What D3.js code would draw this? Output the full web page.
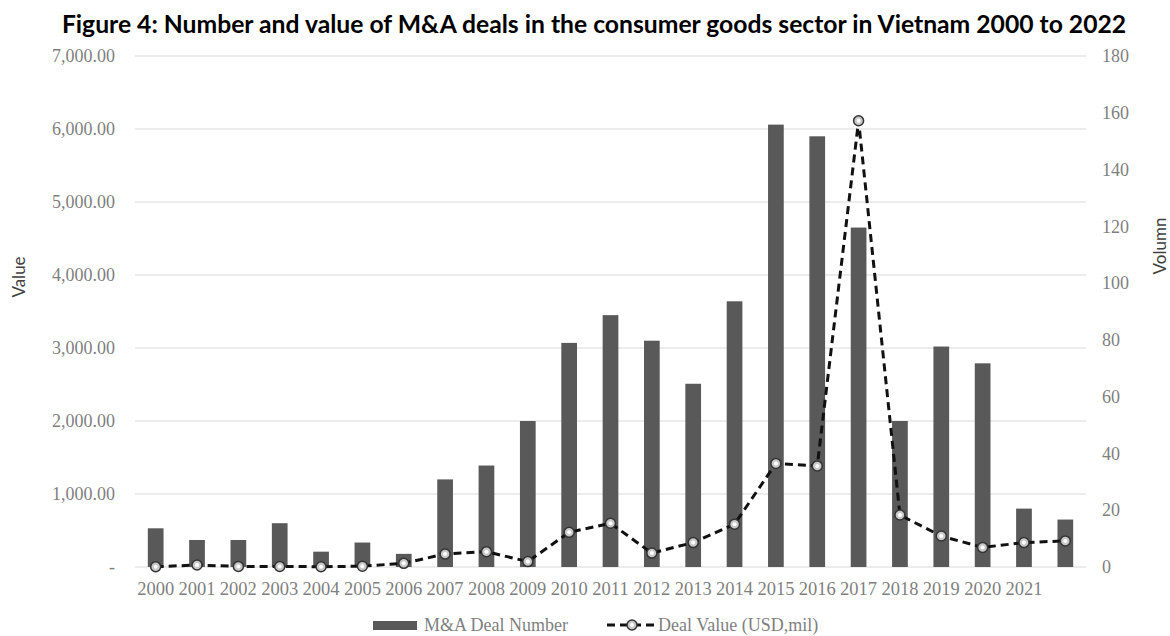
<!DOCTYPE html>
<html>
<head>
<meta charset="utf-8">
<script src="https://cdn.jsdelivr.net/npm/d3@7"></script>
<style>
  body { margin: 0; background: #fff; }
  svg { display: block; }
</style>
</head>
<body>
<svg id="chart" width="1170" height="636"></svg>
<script>
// Years covered by the bars (the last year has no tick label on the axis)
const years = ["2000","2001","2002","2003","2004","2005","2006","2007","2008","2009","2010",
               "2011","2012","2013","2014","2015","2016","2017","2018","2019","2020","2021","2022"];
// M&A deal number (left axis)
const dealNumber = [530, 370, 370, 600, 210, 335, 180, 1200, 1390, 2000, 3070,
                    3450, 3100, 2510, 3640, 6060, 5900, 4650, 2000, 3020, 2790, 800, 650];
// Deal value, USD mil (right axis)
const dealValue = [0.1, 0.7, 0.2, 0.2, 0.1, 0.3, 1.3, 4.6, 5.4, 1.9, 12.2,
                   15.4, 4.9, 8.6, 15.1, 36.5, 35.6, 157.2, 18.3, 10.9, 6.9, 8.6, 9.2];
// Labels printed under the axis
const xTickLabels = ["2000","2001","2002","2003","2004","2005","2006","2007","2008","2009","2010",
                     "2011","2012","2013","2014","2015","2016","2017","2018","2019","2020","2021"];
const leftTicks = [0, 1000, 2000, 3000, 4000, 5000, 6000, 7000];
const rightTicks = [0, 20, 40, 60, 80, 100, 120, 140, 160, 180];

const svg = d3.select("#chart");
const plot = { left: 135, right: 1086, top: 56, bottom: 567 };

const x = d3.scaleBand().domain(years).range([plot.left, plot.right]).paddingInner(0.62).paddingOuter(0.31);
const yL = d3.scaleLinear().domain([0, 7000]).range([plot.bottom, plot.top]);
const yR = d3.scaleLinear().domain([0, 180]).range([plot.bottom, plot.top]);

const serif = "'Liberation Serif', 'Times New Roman', serif";
const sans = "Lato, 'Open Sans', sans-serif";
const tickColor = "#7f7f7f";

// Title
svg.append("text")
  .attr("x", 594).attr("y", 33)
  .attr("text-anchor", "middle")
  .attr("font-family", sans)
  .attr("font-weight", "bold")
  .attr("font-size", 24.7)
  .attr("fill", "#000")
  .text("Figure 4: Number and value of M&A deals in the consumer goods sector in Vietnam 2000 to 2022");

// Horizontal gridlines from the left axis
svg.append("g").selectAll("line").data(leftTicks).join("line")
  .attr("x1", plot.left).attr("x2", plot.right)
  .attr("y1", d => yL(d)).attr("y2", d => yL(d))
  .attr("stroke", "#d9d9d9").attr("stroke-width", 1.2);

// Left axis
const leftAxis = d3.axisLeft(yL).tickValues(leftTicks)
  .tickFormat(d => d === 0 ? "-" : d3.format(",.2f")(d)).tickSize(0).tickPadding(0);
const gL = svg.append("g").attr("transform", `translate(${plot.left - 20},0)`).call(leftAxis);
gL.select(".domain").remove();
gL.selectAll("text").attr("font-family", serif).attr("font-size", 18).attr("fill", tickColor);

// Right axis
const rightAxis = d3.axisRight(yR).tickValues(rightTicks).tickSize(0).tickPadding(0);
const gR = svg.append("g").attr("transform", `translate(${plot.right + 16},0)`).call(rightAxis);
gR.select(".domain").remove();
gR.selectAll("text").attr("font-family", serif).attr("font-size", 18).attr("fill", tickColor);

// Bottom axis: labels only, the last band stays unlabeled
const labelled = new Set(xTickLabels);
const bottomAxis = d3.axisBottom(x).tickSize(0).tickPadding(0)
  .tickFormat(d => labelled.has(d) ? d : "");
const gB = svg.append("g").attr("transform", `translate(0,${plot.bottom + 15})`).call(bottomAxis);
gB.select(".domain").remove();
gB.selectAll("text").attr("font-family", serif).attr("font-size", 18.5).attr("fill", tickColor);

// Axis titles
svg.append("text")
  .attr("transform", `translate(25,277) rotate(-90)`)
  .attr("text-anchor", "middle")
  .attr("font-family", sans)
  .attr("font-size", 17).attr("fill", "#404040")
  .text("Value");
svg.append("text")
  .attr("transform", `translate(1166,246) rotate(-90)`)
  .attr("text-anchor", "middle")
  .attr("font-family", sans)
  .attr("font-size", 17).attr("fill", "#404040")
  .text("Volumn");

// Bars
svg.append("g").selectAll("rect").data(years).join("rect")
  .attr("x", d => x(d))
  .attr("width", x.bandwidth())
  .attr("y", (d, i) => yL(dealNumber[i]))
  .attr("height", (d, i) => yL(0) - yL(dealNumber[i]))
  .attr("fill", "#595959");

// Dashed line for deal value
const cx = d => x(d) + x.bandwidth() / 2;
const line = d3.line().x(d => cx(d)).y((d, i) => yR(dealValue[i]));
svg.append("path").datum(years)
  .attr("d", line)
  .attr("fill", "none")
  .attr("stroke", "#111")
  .attr("stroke-width", 3)
  .attr("stroke-dasharray", "8,5");

// Markers
function marker(g) {
  g.append("circle").attr("r", 5).attr("fill", "#c8c8c8").attr("stroke", "#333").attr("stroke-width", 1.5);
  g.append("circle").attr("r", 2).attr("fill", "#fff");
}
svg.append("g").selectAll("g").data(years).join("g")
  .attr("transform", (d, i) => `translate(${cx(d)},${yR(dealValue[i])})`)
  .each(function () { marker(d3.select(this)); });

// Legend
const legend = svg.append("g");
legend.append("rect").attr("x", 373).attr("y", 621).attr("width", 44).attr("height", 9).attr("fill", "#595959");
legend.append("text").attr("x", 424).attr("y", 631)
  .attr("font-family", serif).attr("font-size", 18).attr("fill", tickColor)
  .text("M&A Deal Number");
legend.append("line").attr("x1", 607).attr("x2", 654).attr("y1", 625).attr("y2", 625)
  .attr("stroke", "#111").attr("stroke-width", 3).attr("stroke-dasharray", "8,5");
const lm = legend.append("g").attr("transform", "translate(632,625)");
marker(lm);
legend.append("text").attr("x", 658).attr("y", 631)
  .attr("font-family", serif).attr("font-size", 18).attr("fill", tickColor)
  .text("Deal Value (USD,mil)");
</script>
</body>
</html>
